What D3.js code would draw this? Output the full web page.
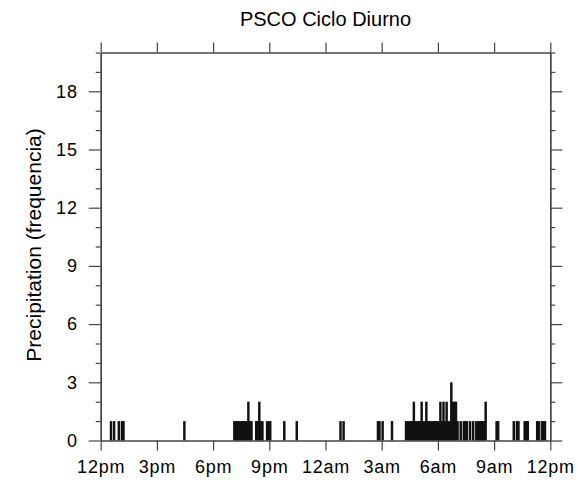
<!DOCTYPE html>
<html>
<head>
<meta charset="utf-8">
<script src="https://cdn.jsdelivr.net/npm/d3@7"></script>
<style>
  body { margin: 0; background: #fff; }
  text { font-family: "Liberation Sans", Arial, sans-serif; fill: #000; }
</style>
</head>
<body>
<div id="chart"></div>
<script>
// Minutes after 12pm (5-minute bins) and how many events fell in each bin
const minutes = [
    30, 40, 55, 65, 70, 265,
    425, 430, 435, 440, 445, 450, 455, 460, 465, 470, 475, 480,
    495, 500, 505, 510, 515, 530, 535, 540, 585, 625,
    765, 775, 885, 890, 900, 930,
    975, 980, 985, 990, 995, 1000, 1005, 1010, 1015, 1020, 1025, 1030,
    1035, 1040, 1045, 1050, 1055, 1060, 1065, 1070, 1075, 1080, 1085, 1090,
    1095, 1100, 1105, 1110, 1115, 1120, 1125, 1130, 1135, 1140,
    1150, 1160, 1165, 1170, 1180, 1190,
    1200, 1205, 1210, 1215, 1220, 1225, 1230,
    1265, 1270, 1320, 1330, 1335, 1355, 1360, 1365,
    1395, 1400, 1410, 1415, 1420
];
const counts = [
    1, 1, 1, 1, 1, 1,
    1, 1, 1, 1, 1, 1, 1, 1, 1, 2, 1, 1,
    1, 1, 2, 1, 1, 1, 1, 1, 1, 1,
    1, 1, 1, 1, 1, 1,
    1, 1, 1, 1, 1, 2, 1, 1, 1, 1, 2, 1,
    1, 2, 1, 1, 1, 1, 1, 1, 1, 1, 2, 1,
    2, 1, 2, 1, 1, 3, 2, 2, 2, 1,
    1, 1, 1, 1, 1, 1,
    1, 1, 1, 1, 1, 1, 2,
    1, 1, 1, 1, 1, 1, 1, 1,
    1, 1, 1, 1, 1
];
const binSize = 5;

const xTickValues = [0, 180, 360, 540, 720, 900, 1080, 1260, 1440];
const xTickLabels = ["12pm", "3pm", "6pm", "9pm", "12am", "3am", "6am", "9am", "12pm"];
const yMajorTicks = [0, 3, 6, 9, 12, 15, 18];
const yMinorTicks = [1, 2, 4, 5, 7, 8, 10, 11, 13, 14, 16, 17, 19, 20];

const width = 582, height = 483;
const margin = { top: 52.5, right: 31.7, bottom: 42.5, left: 100.7 };

const svg = d3.select('#chart')
    .append('svg')
    .attr('width', width)
    .attr('height', height);

const xScale = d3.scaleLinear()
    .domain([0, 1440])
    .range([margin.left, width - margin.right]);

const yScale = d3.scaleLinear()
    .domain([0, 20])
    .range([height - margin.bottom, margin.top]);

// bars (widened a little so neighbouring bins merge into solid blocks)
svg.append('g')
    .selectAll('rect')
    .data(minutes)
    .join('rect')
    .attr('x', d => xScale(d) - 0.3)
    .attr('y', (d, i) => yScale(counts[i]))
    .attr('width', d => xScale(d + binSize) - xScale(d) + 0.9)
    .attr('height', (d, i) => yScale(0) - yScale(counts[i]))
    .attr('fill', '#111');

const lineColor = '#444';
function styleAxis(g) {
    g.selectAll('.domain').attr('stroke', lineColor).attr('stroke-width', 1.3);
    g.selectAll('.tick line').attr('stroke', lineColor).attr('stroke-width', 1.2);
}

// bottom axis with labels
svg.append('g')
    .attr('transform', `translate(0,${yScale(0)})`)
    .call(d3.axisBottom(xScale)
        .tickValues(xTickValues)
        .tickFormat((d, i) => xTickLabels[i])
        .tickSize(10)
        .tickSizeOuter(0)
        .tickPadding(10))
    .call(styleAxis)
    .call(g => g.selectAll('text')
        .style('font-size', '18px')
        .style('letter-spacing', '0.8px'));

// top axis
svg.append('g')
    .attr('transform', `translate(0,${yScale(20)})`)
    .call(d3.axisTop(xScale)
        .tickValues(xTickValues)
        .tickFormat('')
        .tickSize(10)
        .tickSizeOuter(0))
    .call(styleAxis);

// left axis: minor then major
svg.append('g')
    .attr('transform', `translate(${xScale(0)},0)`)
    .call(d3.axisLeft(yScale)
        .tickValues(yMinorTicks)
        .tickFormat('')
        .tickSize(5)
        .tickSizeOuter(0))
    .call(styleAxis);

svg.append('g')
    .attr('transform', `translate(${xScale(0)},0)`)
    .call(d3.axisLeft(yScale)
        .tickValues(yMajorTicks)
        .tickSize(12)
        .tickSizeOuter(0)
        .tickPadding(11))
    .call(styleAxis)
    .call(g => g.selectAll('text')
        .style('font-size', '18px')
        .style('letter-spacing', '0.8px'));

// right axis
svg.append('g')
    .attr('transform', `translate(${xScale(1440)},0)`)
    .call(d3.axisRight(yScale)
        .tickValues(yMinorTicks)
        .tickFormat('')
        .tickSize(5)
        .tickSizeOuter(0))
    .call(styleAxis);

svg.append('g')
    .attr('transform', `translate(${xScale(1440)},0)`)
    .call(d3.axisRight(yScale)
        .tickValues(yMajorTicks)
        .tickFormat('')
        .tickSize(12)
        .tickSizeOuter(0))
    .call(styleAxis);

// title
svg.append('text')
    .attr('x', (xScale(0) + xScale(1440)) / 2)
    .attr('y', 26)
    .style('text-anchor', 'middle')
    .style('font-size', '20px')
    .text('PSCO Ciclo Diurno');

// y-axis label
svg.append('text')
    .attr('x', -245)
    .attr('y', 41)
    .attr('transform', 'rotate(-90)')
    .style('text-anchor', 'middle')
    .style('font-size', '21px')
    .text('Precipitation (frequencia)');
</script>
</body>
</html>
